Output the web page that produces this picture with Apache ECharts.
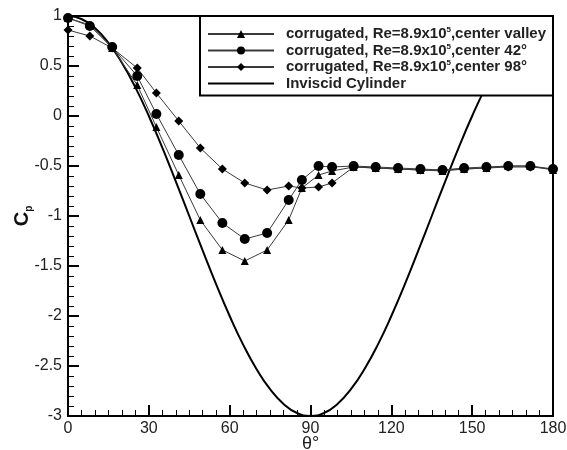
<!DOCTYPE html>
<html>
<head>
<meta charset="utf-8">
<script src="https://cdn.jsdelivr.net/npm/echarts@6/dist/echarts.min.js"></script>
<style>
  html, body { margin: 0; padding: 0; background: #fff; }
  #chart { width: 567px; height: 450px; }
</style>
</head>
<body>
<div id="chart"></div>
<script>
// Pressure coefficient around a corrugated cylinder, Re = 8.9x10^5
const theta = [0, 8.1, 16.4, 25.7, 32.8, 41.1, 49.1, 57.3, 65.6, 73.9, 81.9, 86.8,
               93, 98, 106, 114.2, 122.5, 130.8, 139, 147, 155.3, 163.4, 171.6, 180];

const cpValley = [0.98, 0.91, 0.68, 0.31, -0.11, -0.59, -1.04, -1.34, -1.45, -1.34, -1.04, -0.72,
                  -0.59, -0.55, -0.51, -0.52, -0.53, -0.54, -0.55, -0.53, -0.52, -0.5, -0.5, -0.54];

const cp42 = [0.98, 0.9, 0.69, 0.4, 0.02, -0.39, -0.78, -1.07, -1.23, -1.17, -0.84, -0.64,
              -0.5, -0.51, -0.5, -0.51, -0.52, -0.53, -0.54, -0.52, -0.51, -0.5, -0.5, -0.53];

const cp98 = [0.86, 0.8, 0.68, 0.48, 0.23, -0.05, -0.32, -0.53, -0.67, -0.74, -0.7, -0.72,
              -0.71, -0.67, -0.51, -0.52, -0.53, -0.54, -0.54, -0.53, -0.52, -0.51, -0.51, -0.53];

// Potential-flow curve, sampled every 5 degrees
const thetaInviscid = [0, 5, 10, 15, 20, 25, 30, 35, 40, 45, 50, 55, 60, 65, 70, 75, 80, 85, 90,
                       95, 100, 105, 110, 115, 120, 125, 130, 135, 140, 145, 150, 155, 160, 165, 170, 175, 180];
const cpInviscid = [1, 0.97, 0.879, 0.732, 0.532, 0.286, 0, -0.316, -0.653, -1, -1.347, -1.684, -2,
                    -2.286, -2.532, -2.732, -2.879, -2.97, -3, -2.97, -2.879, -2.732, -2.532, -2.286,
                    -2, -1.684, -1.347, -1, -0.653, -0.316, 0, 0.286, 0.532, 0.732, 0.879, 0.97, 1];

const xTicks = { min: 0, max: 180, step: 30 };
const yTicks = { min: -3, max: 1, step: 0.5 };

const names = [
  'corrugated, Re=8.9x10{sup|5},center valley',
  'corrugated, Re=8.9x10{sup|5},center 42°',
  'corrugated, Re=8.9x10{sup|5},center 98°',
  'Inviscid Cylinder'
];
const ids = ['valley', 'c42', 'c98', 'inviscid'];

const pair = (xs, ys) => xs.map((x, i) => [x, ys[i]]);

const FONT = '"Liberation Sans", Arial, Helvetica, sans-serif';

const markerSeries = (id, data, symbol, size) => ({
  id: id,
  name: id,
  type: 'line',
  data: data,
  symbol: symbol,
  symbolSize: size,
  showAllSymbol: true,
  lineStyle: { color: '#3a3a3a', width: 1 },
  itemStyle: { color: '#000', borderWidth: 0 },
  emphasis: { disabled: true },
  z: 3
});

const chart = echarts.init(document.getElementById('chart'), null, { renderer: 'canvas' });

chart.setOption({
  animation: false,
  backgroundColor: '#fff',
  grid: {
    left: 68, right: 14, top: 16, bottom: 34,
    outerBoundsMode: 'none',
    show: true, borderColor: '#000', borderWidth: 2, backgroundColor: 'transparent'
  },
  legend: {
    orient: 'vertical',
    left: 200,
    top: 16,
    backgroundColor: '#fff',
    borderColor: '#000',
    borderWidth: 2,
    borderRadius: 0,
    padding: [10, 7, 4, 7],
    itemGap: 0.5,
    itemWidth: 66,
    itemHeight: 10,
    selectedMode: false,
    data: [
      { name: 'valley' },
      { name: 'c42' },
      { name: 'c98' },
      { name: 'inviscid', itemStyle: { opacity: 0 } }
    ],
    formatter: function (name) { return names[ids.indexOf(name)]; },
    textStyle: {
      fontFamily: FONT,
      fontWeight: 'bold',
      fontSize: 15,
      color: '#222',
      lineHeight: 16,
      padding: [0, 0, 0, 7],
      rich: {
        sup: { fontFamily: FONT, fontWeight: 'bold', fontSize: 8, color: '#222', verticalAlign: 'top', lineHeight: 9 }
      }
    }
  },
  xAxis: {
    type: 'value',
    min: xTicks.min, max: xTicks.max, interval: xTicks.step,
    name: 'θ°',
    nameLocation: 'middle',
    nameGap: 19,
    nameMoveOverlap: false,
    nameTextStyle: { fontFamily: FONT, fontSize: 18, color: '#222' },
    axisLine: { onZero: false, lineStyle: { color: '#000', width: 2 } },
    axisTick: { inside: true, length: 11, lineStyle: { color: '#000', width: 2 } },
    minorTick: { show: true, splitNumber: 6, length: 6, lineStyle: { color: '#000', width: 1 } },
    axisLabel: { margin: 5, fontFamily: FONT, fontSize: 16, color: '#222' },
    splitLine: { show: false }
  },
  yAxis: {
    type: 'value',
    min: yTicks.min, max: yTicks.max, interval: yTicks.step,
    name: '{c|C}{p|p}',
    nameLocation: 'middle',
    nameRotate: 90,
    nameGap: 34,
    nameMoveOverlap: false,
    nameTextStyle: {
      rich: {
        c: { fontFamily: FONT, fontSize: 20, fontWeight: 'bold', color: '#111', verticalAlign: 'top', lineHeight: 22 },
        p: { fontFamily: FONT, fontSize: 10, fontWeight: 'bold', color: '#111', verticalAlign: 'bottom', lineHeight: 22 }
      }
    },
    axisLine: { onZero: false, lineStyle: { color: '#000', width: 2 } },
    axisTick: { inside: true, length: 11, lineStyle: { color: '#000', width: 2 } },
    minorTick: { show: true, splitNumber: 5, length: 6, lineStyle: { color: '#000', width: 1 } },
    axisLabel: { margin: 6, fontFamily: FONT, fontSize: 16, color: '#222' },
    splitLine: { show: false }
  },
  series: [
    markerSeries('valley', pair(theta, cpValley), 'triangle', 8),
    markerSeries('c42', pair(theta, cp42), 'circle', 10),
    markerSeries('c98', pair(theta, cp98), 'diamond', 9),
    {
      id: 'inviscid',
      name: 'inviscid',
      type: 'line',
      data: pair(thetaInviscid, cpInviscid),
      smooth: true,
      symbol: 'none',
      lineStyle: { color: '#000', width: 2 },
      itemStyle: { color: '#000' },
      emphasis: { disabled: true },
      z: 2
    }
  ]
});
</script>
</body>
</html>
